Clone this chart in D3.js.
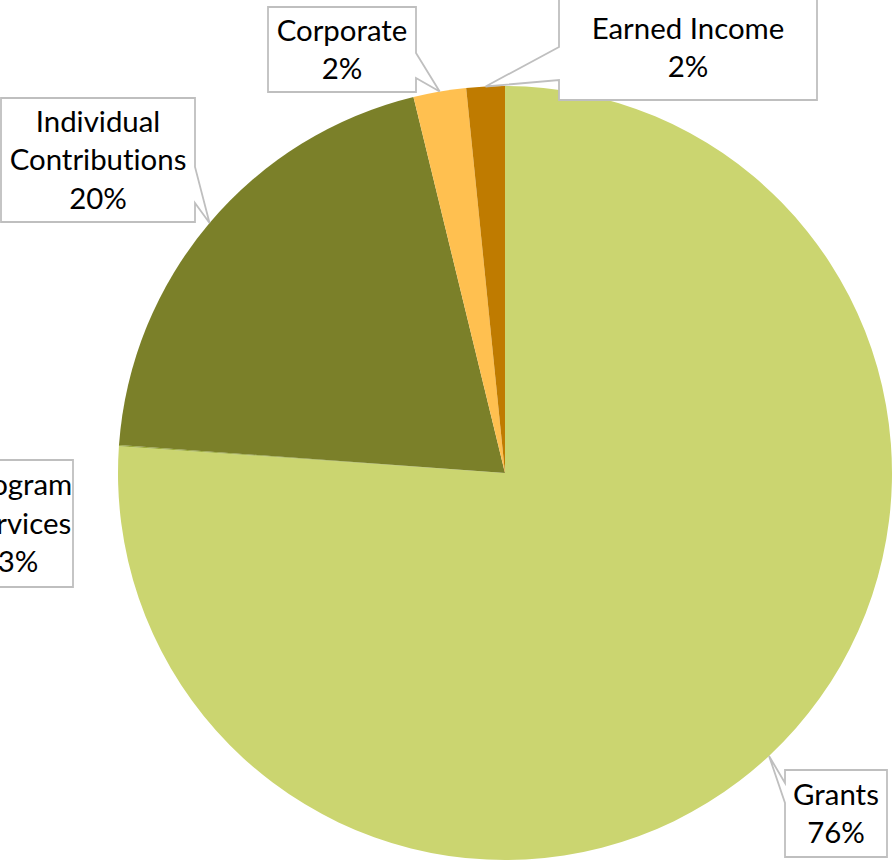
<!DOCTYPE html>
<html lang="en">
    <head>
        <meta charset="utf-8">
        <title>Revenue sources pie</title>
        <script src="https://d3js.org/d3.v7.min.js"></script>
        <style>
            body { margin: 0; background: #fff; overflow: hidden; }
            text {
                font-family: Lato, "Open Sans", sans-serif;
                font-variant-ligatures: none;
                fill: #000;
            }
            .callout {
                fill: #fff;
                stroke: #bfbfbf;
                stroke-width: 1.8;
            }
        </style>
    </head>
    <body>
        <svg id="chart" width="893" height="866"></svg>
        <script>
            // data
            var categories = ["Grants", "Program Services", "Individual Contributions", "Corporate", "Earned Income"]
            var values = [76.1, 0.05, 20.05, 2.2, 1.6]
            var pctLabels = ["76%", "3%", "20%", "2%", "2%"]
            var nameLines = [["Grants"], ["Program", "Services"], ["Individual", "Contributions"], ["Corporate"], ["Earned Income"]]
            var colors = ["#cbd570", "#9bab3c", "#7b8029", "#ffc050", "#bf7b00"]

            // where each callout box sits: box edges, which side the pointer leaves from, pointer base
            var boxes = [
                {x0: 785, y0: 770, x1: 887, y1: 857, side: "left", b0: 783, b1: 803},
                {x0: -37, y0: 460, x1: 73, y1: 587, side: null},
                {x0: 1, y0: 98, x1: 195, y1: 222, side: "right", b0: 167, b1: 203},
                {x0: 268, y0: 7, x1: 416, y1: 92, side: "right", b0: 53, b1: 78},
                {x0: 559, y0: -5, x1: 817, y1: 100, side: "left", b0: 47, b1: 80}
            ]

            var cx = 505, cy = 473, radius = 387
            var svg = d3.select("#chart")
            var g = svg.append("g").attr("transform", "translate(" + cx + "," + cy + ")")

            var pie = d3.pie().sort(null).value(function (d) { return d })
            var arcs = pie(values)
            var arc = d3.arc().innerRadius(0).outerRadius(radius)
            var rim = d3.arc().innerRadius(radius).outerRadius(radius)

            g.selectAll("path.slice")
                .data(arcs)
                .enter().append("path")
                .attr("class", "slice")
                .attr("d", arc)
                .attr("fill", function (d, i) { return colors[i] })

            // callout outline: rectangle with a wedge pointing at the slice
            function calloutPath(b, tip) {
                var p = d3.path()
                if (b.side == "left") {
                    p.moveTo(b.x0, b.y0)
                    p.lineTo(b.x1, b.y0)
                    p.lineTo(b.x1, b.y1)
                    p.lineTo(b.x0, b.y1)
                    p.lineTo(b.x0, b.b1)
                    p.lineTo(tip[0], tip[1])
                    p.lineTo(b.x0, b.b0)
                } else if (b.side == "right") {
                    p.moveTo(b.x0, b.y0)
                    p.lineTo(b.x1, b.y0)
                    p.lineTo(b.x1, b.b0)
                    p.lineTo(tip[0], tip[1])
                    p.lineTo(b.x1, b.b1)
                    p.lineTo(b.x1, b.y1)
                    p.lineTo(b.x0, b.y1)
                } else {
                    p.rect(b.x0, b.y0, b.x1 - b.x0, b.y1 - b.y0)
                }
                p.closePath()
                return p.toString()
            }

            var lineH = 38.5
            var fontSize = 29.4

            arcs.forEach(function (d, i) {
                var b = boxes[i]
                var c = rim.centroid(d)
                var tip = [c[0] + cx, c[1] + cy]

                svg.append("path")
                    .attr("class", "callout")
                    .attr("d", calloutPath(b, tip))

                var lines = nameLines[i].concat([pctLabels[i]])
                var midX = (b.x0 + b.x1) / 2
                var midY = (b.y0 + b.y1) / 2
                var first = midY - (lines.length - 1) * lineH / 2 + fontSize * 0.35

                var t = svg.append("text")
                    .attr("text-anchor", "middle")
                    .attr("font-size", fontSize)
                lines.forEach(function (s, k) {
                    t.append("tspan")
                        .attr("x", midX)
                        .attr("y", first + k * lineH)
                        .text(s)
                })
            })
        </script>
    </body>
</html>
